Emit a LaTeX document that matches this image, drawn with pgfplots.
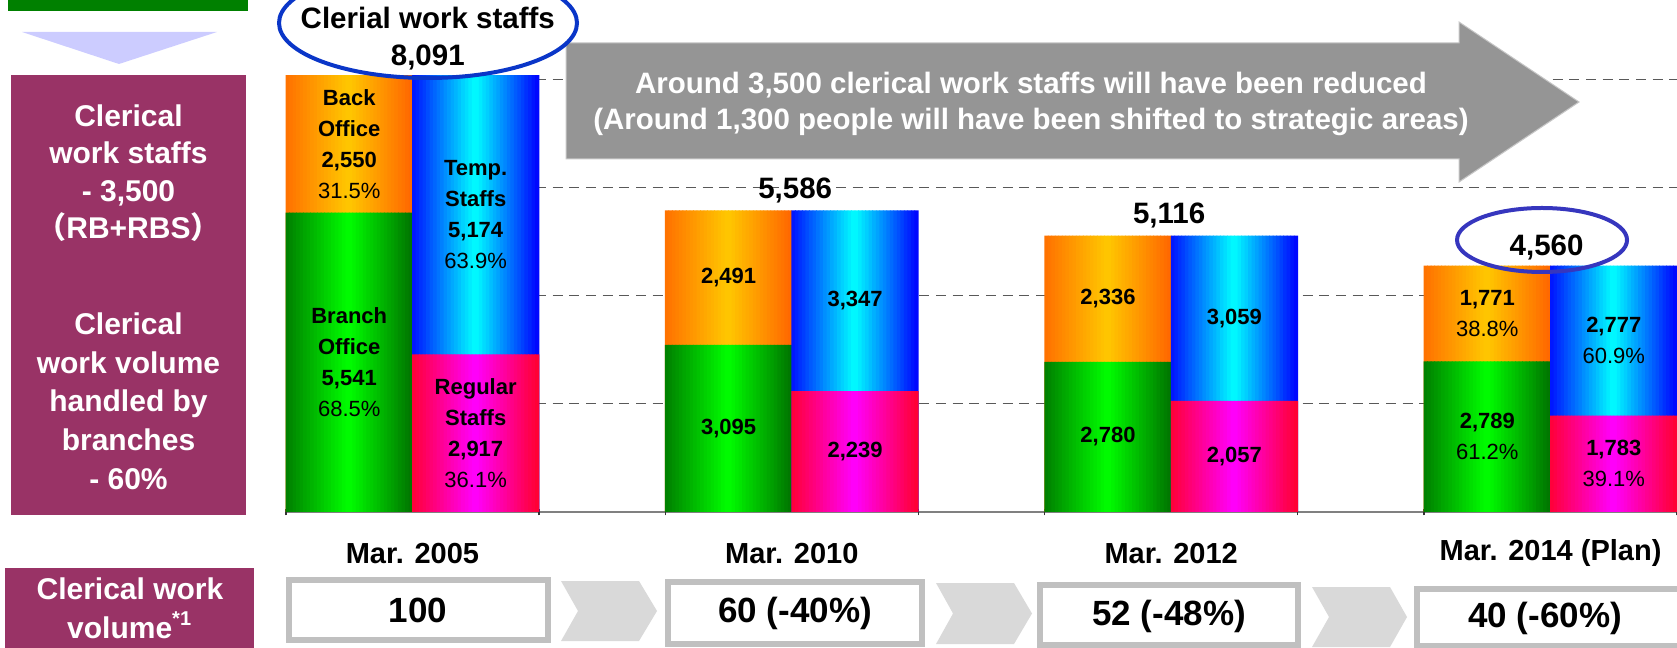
\documentclass[border=0pt]{standalone}
\usepackage{pgfplots}
\pgfplotsset{compat=1.18}
\usepackage{fontspec}
\setmainfont{Liberation Sans}
\newfontfamily\cjk{Noto Sans CJK JP}

\definecolor{panelpurple}{HTML}{993366}
\definecolor{topgreen}{HTML}{008000}
\definecolor{lavender}{HTML}{CCCCFF}
\definecolor{arrowgray}{HTML}{959595}
\definecolor{boxgray}{HTML}{C0C0C0}
\definecolor{chevgray}{HTML}{D9D9D9}
\definecolor{ellA}{HTML}{0A36C8}
\definecolor{ellB}{HTML}{3636BE}
\definecolor{gL}{HTML}{007E00}
\definecolor{gM}{HTML}{00FF00}
\definecolor{gR}{HTML}{007400}
\definecolor{oL}{HTML}{FF7000}
\definecolor{oM}{HTML}{FFC800}
\definecolor{oR}{HTML}{FF6600}
\definecolor{bL}{HTML}{0010FF}
\definecolor{bM}{HTML}{00FFFF}
\definecolor{bR}{HTML}{0000FF}
\definecolor{mL}{HTML}{FF0036}
\definecolor{mM}{HTML}{FF00FF}
\definecolor{mR}{HTML}{FF0030}

% horizontal gradient colours for 36 vertical slices of every bar
\foreach \k in {0,...,35}{%
  \pgfmathsetmacro\t{(\k+0.5)/36}%
  \ifdim\t pt<0.5pt
    \pgfmathtruncatemacro\p{round(200*\t)}%
    \xglobal\colorlet{g\k}{gM!\p!gL}\xglobal\colorlet{o\k}{oM!\p!oL}%
    \xglobal\colorlet{b\k}{bM!\p!bL}\xglobal\colorlet{m\k}{mM!\p!mL}%
  \else
    \pgfmathtruncatemacro\p{round(200*(\t-0.5))}%
    \xglobal\colorlet{g\k}{gR!\p!gM}\xglobal\colorlet{o\k}{oR!\p!oM}%
    \xglobal\colorlet{b\k}{bR!\p!bM}\xglobal\colorlet{m\k}{mR!\p!mM}%
  \fi
}

\newcommand{\fs}[2]{\fontsize{#1}{#2}\selectfont}

\tikzset{
  lbl/.style={align=center, font=\fs{6.6}{9.3}, text=black, inner sep=0pt},
  tot/.style={font=\bfseries\fs{8.85}{10}, text=black, inner sep=0pt, anchor=base},
}
\pgfplotsset{
  slice/.style={ybar, draw=none, bar width=1.3pt},
}

\begin{document}
\begin{tikzpicture}
\clip (0pt,0pt) rectangle (503.1pt,-194.4pt);

% ---------- left panel and bottom row (pixel units) ----------
\begin{scope}[x=0.3pt,y=-0.3pt]
\useasboundingbox (0,0) rectangle (1677,648);
\fill[topgreen] (8,0) rectangle (248,11);
\fill[lavender] (22,32) -- (217,32) -- (119,64) -- cycle;
\fill[panelpurple] (11,75) rectangle (246,515);
\node[text=white, font=\bfseries\fs{9}{11.25}, align=center] at (128.5,173)
  {Clerical\\work staffs\\- 3,500\\{\cjk （}RB+RBS{\cjk ）}};
\node[text=white, font=\bfseries\fs{9}{11.6}, align=center] at (128.5,401)
  {Clerical\\work volume\\handled by\\branches\\- 60\%};
\fill[panelpurple] (5,568) rectangle (254,650);
\node[text=white, font=\bfseries\fs{9}{11.7}, align=center] at (130,608)
  {Clerical work\\volume\textsuperscript{*1}};

% boxes
\draw[boxgray, line width=1.8pt, fill=white] (289,580) rectangle (548,640);
\draw[boxgray, line width=1.8pt, fill=white] (668,582) rectangle (922,644);
\draw[boxgray, line width=1.8pt, fill=white] (1040,585) rectangle (1298,645);
\draw[boxgray, line width=1.8pt, fill=white] (1417,589) rectangle (1695,646);
\node[font=\bfseries\fs{10.5}{12}] at (418,610) {100};
\node[font=\bfseries\fs{10.5}{12}] at (795,613) {60 (-40\%)};
\node[font=\bfseries\fs{10.5}{12}] at (1169,616) {52 (-48\%)};
\node[font=\bfseries\fs{10.5}{12}] at (1545,618) {40 (-60\%)};
% chevrons
\fill[chevgray] (561,581) -- (639,581) -- (657,611) -- (639,641) -- (561,641) -- (578,611) -- cycle;
\fill[chevgray] (936,583) -- (1014,583) -- (1032,613.5) -- (1014,644) -- (936,644) -- (953,613.5) -- cycle;
\fill[chevgray] (1312,587) -- (1390,587) -- (1407,617) -- (1390,647) -- (1312,647) -- (1329,617) -- cycle;
\end{scope}

% ---------- the bars ----------
\begin{axis}[
  scale only axis,
  width=417.3pt, height=153.6pt,
  at={(85.8pt,-153.6pt)}, anchor=south west,
  xmin=-0.333333, xmax=3.333333,
  ymin=0, ymax=9480,
  clip=false,
  axis x line*=bottom, axis y line*=left,
  y axis line style={draw=none},
  x axis line style={draw=black!50, line width=0.6pt},
  ytick={2000,4000,6000,8000}, yticklabels={}, ytick style={draw=none},
  ymajorgrids,
  grid style={black!65, line width=0.3pt, dash pattern=on 3pt off 2pt},
  xtick={0,1,2,3},
  xticklabels={Mar. 2005, Mar. 2010, Mar. 2012, Mar. 2014 (Plan)},
  major tick length=0pt,
  xticklabel style={font=\bfseries\fs{8.7}{10}, anchor=center, yshift=-12.4pt},
  extra x ticks={-0.333333,0.333333,0.666667,1.333333,1.666667,2.333333,2.666667,3.333333},
  extra x tick labels={},
  extra x tick style={major tick length=2pt, tick align=center, tick style={black!80, line width=0.4pt}},
]
% Left stack of each date: Back Office on top of Branch Office
% (total height Branch + Back Office drawn first, Branch Office drawn over it)
\pgfplotsinvokeforeach{0,...,35}{
  \addplot[slice, fill=o#1, bar shift={-37.95pt+(#1+0.5)*1.0541667pt}]
    coordinates {(0,8091) (1,5586) (2,5116) (3,4560)};
}
\pgfplotsinvokeforeach{0,...,35}{
  \addplot[slice, fill=g#1, bar shift={-37.95pt+(#1+0.5)*1.0541667pt}]
    coordinates {(0,5541) (1,3095) (2,2780) (3,2789)};
}
% Right stack: Temp. Staffs on top of Regular Staffs
\pgfplotsinvokeforeach{0,...,35}{
  \addplot[slice, fill=b#1, bar shift={(#1+0.5)*1.0541667pt}]
    coordinates {(0,8091) (1,5586) (2,5116) (3,4560)};
}
\pgfplotsinvokeforeach{0,...,35}{
  \addplot[slice, fill=m#1, bar shift={(#1+0.5)*1.0541667pt}]
    coordinates {(0,2917) (1,2239) (2,2057) (3,1783)};
}

\node[lbl] at (axis cs:-0.166667,6816) {\textbf{Back}\\\textbf{Office}\\\textbf{2,550}\\31.5\%};
\node[lbl] at (axis cs:-0.166667,2770) {\textbf{Branch}\\\textbf{Office}\\\textbf{5,541}\\68.5\%};
\node[lbl] at (axis cs:0.166667,5504) {\textbf{Temp.}\\\textbf{Staffs}\\\textbf{5,174}\\63.9\%};
\node[lbl] at (axis cs:0.166667,1458) {\textbf{Regular}\\\textbf{Staffs}\\\textbf{2,917}\\36.1\%};
\node[lbl] at (axis cs:0.833333,4340) {\textbf{2,491}};
\node[lbl] at (axis cs:0.833333,1547) {\textbf{3,095}};
\node[lbl] at (axis cs:1.166667,3912) {\textbf{3,347}};
\node[lbl] at (axis cs:1.166667,1119) {\textbf{2,239}};
\node[lbl] at (axis cs:1.833333,3948) {\textbf{2,336}};
\node[lbl] at (axis cs:1.833333,1390) {\textbf{2,780}};
\node[lbl] at (axis cs:2.166667,3586) {\textbf{3,059}};
\node[lbl] at (axis cs:2.166667,1028) {\textbf{2,057}};
\node[lbl] at (axis cs:2.833333,3674) {\textbf{1,771}\\38.8\%};
\node[lbl] at (axis cs:2.833333,1394) {\textbf{2,789}\\61.2\%};
\node[lbl] at (axis cs:3.166667,3171) {\textbf{2,777}\\60.9\%};
\node[lbl] at (axis cs:3.166667,891) {\textbf{1,783}\\39.1\%};

\node[tot, yshift=3.4pt, xshift=1pt] at (axis cs:1,5586) {5,586};
\node[tot, yshift=3.7pt, xshift=-0.6pt] at (axis cs:2,5116) {5,116};
\node[tot, yshift=3.1pt, xshift=-1.2pt] at (axis cs:3,4560) {4,560};
\node[tot, yshift=2.8pt, xshift=4.6pt] at (axis cs:0,8091) {8,091};
\node[tot, yshift=13.9pt, xshift=4.6pt] at (axis cs:0,8091) {Clerial work staffs};
\end{axis}

% ---------- overlays (pixel units) ----------
\begin{scope}[x=0.3pt,y=-0.3pt]
\filldraw[fill=arrowgray, draw=black!22, line width=0.3pt]
  (566,43) -- (1459,43) -- (1459,22) -- (1579,102) -- (1459,182) -- (1459,159) -- (566,159) -- cycle;
\node[text=white, font=\bfseries\fs{8.85}{10.8}, align=center] at (1031,104)
  {Around 3,500 clerical work staffs will have been reduced\\(Around 1,300 people will have been shifted to strategic areas)};
\draw[ellA, line width=1.2pt] (428,23) ellipse [x radius=149, y radius=55];
\draw[ellB, line width=1.2pt] (1542,240) ellipse [x radius=85, y radius=32];
\end{scope}
\end{tikzpicture}
\end{document}
